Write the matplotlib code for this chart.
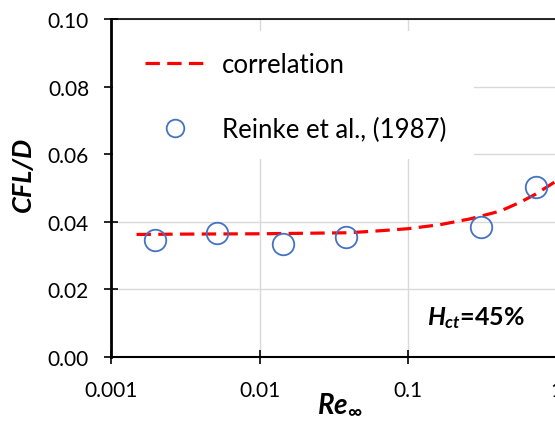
import numpy as np
import matplotlib
matplotlib.use("Agg")
import matplotlib.pyplot as plt
from matplotlib.patches import Rectangle

plt.rcParams['font.family'] = ['Lato', 'DejaVu Sans']
plt.rcParams['mathtext.fontset'] = 'custom'
plt.rcParams['mathtext.rm'] = 'Lato:bold'
plt.rcParams['mathtext.it'] = 'Lato:italic:bold'
plt.rcParams['mathtext.bf'] = 'Lato:bold'

# Reinke et al. (1987) measurements
re_exp = [0.00197, 0.00516, 0.0144, 0.0383, 0.311, 0.731]
cfl_exp = [0.0347, 0.0366, 0.0334, 0.0354, 0.0383, 0.0502]

# correlation curve
re_corr = [0.00148, 0.003, 0.01, 0.04, 0.065, 0.1, 0.165, 0.262, 0.418, 0.57, 0.731, 0.982, 1.2]
cfl_corr = [0.0362, 0.0363, 0.0364, 0.0367, 0.0373, 0.0379, 0.0391, 0.0408, 0.0431, 0.0457, 0.0482, 0.0518, 0.0545]

xticks = [0.001, 0.01, 0.1, 1, 10]
xticklabels = ["0.001", "0.01", "0.1", "1", "10"]
yticks = [0.00, 0.02, 0.04, 0.06, 0.08, 0.10]

W, H = 555, 427
fig = plt.figure(figsize=(W / 100, H / 100), dpi=100)
# plot area runs past the right edge of the picture (cropped)
x0, y_top, y_bot, dec = 111.3, 20.0, 357.7, 148.3
ax = fig.add_axes([x0 / W, (H - y_bot) / H, 4 * dec / W, (y_bot - y_top) / H])

ax.set_xscale('log')
ax.set_xlim(0.001, 10)
ax.set_ylim(0, 0.10)
ax.set_xticks(xticks)
ax.set_xticklabels(xticklabels)
ax.set_yticks(yticks)
ax.set_yticklabels(["%.2f" % v for v in yticks])
ax.minorticks_off()

ax.set_axisbelow(True)
ax.grid(True, color='#d9d9d9', linewidth=1.0)

ax.spines['right'].set_visible(False)
ax.spines['left'].set_linewidth(2.0)
ax.spines['bottom'].set_linewidth(1.5)
ax.spines['top'].set_linewidth(1.2)
ax.tick_params(direction='inout', length=10, width=1.2, labelsize=15, colors='black')
ax.tick_params(axis='y', pad=11)
ax.tick_params(axis='x', pad=12)

# white legend area covering the grid
ax.add_patch(Rectangle((113 / W, (H - 160) / H), (474 - 113) / W, 128 / H,
                       transform=fig.transFigure, facecolor='white', edgecolor='none', zorder=1))

ax.plot(re_corr, cfl_corr, color='#ff0000', linewidth=2.3, linestyle=(0, (4.5, 2.3)),
        label='correlation', zorder=3)
ax.plot(re_exp, cfl_exp, linestyle='none', marker='o', markersize=15.5, markerfacecolor='none',
        markeredgecolor='#4472c4', markeredgewidth=1.3, label='Reinke et al., (1987)', zorder=4)

ax.legend(loc='upper left', bbox_to_anchor=(145 / W, (H - 53) / H), bbox_transform=fig.transFigure,
          frameon=False, fontsize=18.5, handlelength=2.33, handletextpad=0.66, labelspacing=1.55,
          markerscale=0.82, borderpad=0, borderaxespad=0)

fig.text(23 / W, (H - 174) / H, 'CFL/D', rotation=90, ha='center', va='center',
         fontsize=19.5, fontweight='bold', fontstyle='italic')
fig.text(340 / W, (H - 405) / H, r'$Re_{\infty}$', ha='center', va='center', fontsize=20)
ax.text(476 / W, (H - 318) / H, r'$H_{ct}$=45%', transform=fig.transFigure, ha='center', va='center',
        fontsize=18, fontweight='bold')

fig.savefig('out.png', dpi=100)
